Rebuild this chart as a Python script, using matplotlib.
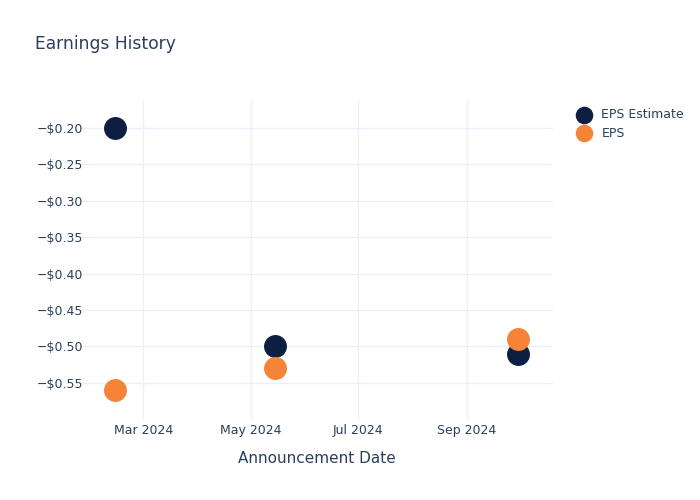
import matplotlib
matplotlib.use("Agg")
import matplotlib.pyplot as plt
import matplotlib.dates as mdates
import pandas as pd

# data
dates = pd.to_datetime(["2024-02-14", "2024-05-15", "2024-09-30"])
eps_estimate = [-0.20, -0.50, -0.51]
eps_actual = [-0.56, -0.53, -0.49]

TEXT = "#2a3f5f"
GRID = "#ebf0f8"

fig = plt.figure(figsize=(7, 5), dpi=100)
ax = fig.add_axes([80 / 700, 80 / 500, 473 / 700, 320 / 500])

ax.scatter(dates, eps_estimate, s=240, color="#0d1f40", label="EPS Estimate", zorder=3)
ax.scatter(dates, eps_actual, s=240, color="#f58438", label="EPS", zorder=3)

ax.set_xlim(pd.Timestamp("2024-01-25"), pd.Timestamp("2024-10-20"))
ax.set_ylim(-0.601, -0.1615)

ax.xaxis.set_major_locator(mdates.MonthLocator(bymonth=[3, 5, 7, 9]))
ax.xaxis.set_major_formatter(mdates.DateFormatter("%b %Y"))
ax.set_yticks([-0.20, -0.25, -0.30, -0.35, -0.40, -0.45, -0.50, -0.55])
ax.yaxis.set_major_formatter(
    plt.FuncFormatter(lambda v, _: ("\u2212" if v < 0 else "") + f"${abs(v):.2f}"))

ax.grid(True, color=GRID, linewidth=1)
ax.set_axisbelow(True)
for s in ax.spines.values():
    s.set_visible(False)
ax.tick_params(length=0, labelsize=9, colors=TEXT)
ax.tick_params(axis="x", pad=3)
ax.tick_params(axis="y", pad=-2)

ax.set_xlabel("Announcement Date", fontsize=11, color=TEXT, labelpad=10)
fig.text(35 / 700, 1 - 44 / 500, "Earnings History", fontsize=12.3, color=TEXT, va="center")

ax.legend(loc="upper left", bbox_to_anchor=(1.015, 1.01), frameon=False,
          fontsize=9, labelcolor=TEXT, markerscale=0.75, handletextpad=0.4,
          labelspacing=0.45)

fig.savefig("out.png", dpi=100)
